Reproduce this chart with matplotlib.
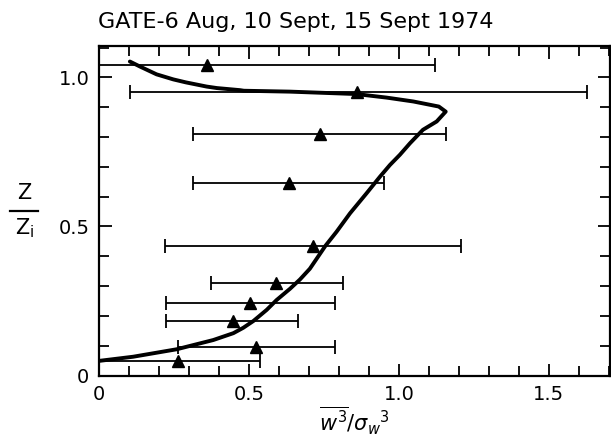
# GATE skewness profile: w^3 / sigma_w^3 against Z / Zi

import matplotlib.pyplot as plt
from matplotlib.ticker import MultipleLocator
from matplotlib.lines import Line2D

# observations (triangles with horizontal range bars)
obs_z = [1.042, 0.950, 0.809, 0.645, 0.436, 0.311, 0.242, 0.182, 0.097, 0.049]
obs_x = [0.359, 0.860, 0.737, 0.632, 0.714, 0.591, 0.502, 0.446, 0.522, 0.264]
obs_lo = [-0.02, 0.103, 0.314, 0.312, 0.220, 0.374, 0.222, 0.222, 0.262, -0.02]
obs_hi = [1.120, 1.626, 1.156, 0.951, 1.208, 0.814, 0.786, 0.662, 0.786, 0.537]

# model curve from top to bottom
curve_x = [0.103, 0.137, 0.192, 0.248, 0.290, 0.359, 0.393, 0.470, 0.483, 0.637,
           0.857, 0.959, 1.048, 1.133, 1.156, 1.126, 1.080, 1.037, 1.003, 0.970,
           0.937, 0.892, 0.837, 0.792, 0.755, 0.703, 0.670, 0.637, 0.592, 0.559,
           0.515, 0.481, 0.448, 0.381, 0.259, 0.114, 0.0]
curve_z = [1.053, 1.036, 1.010, 0.993, 0.983, 0.969, 0.964, 0.957, 0.955, 0.952,
           0.944, 0.932, 0.919, 0.902, 0.885, 0.852, 0.824, 0.779, 0.740, 0.706,
           0.667, 0.611, 0.544, 0.482, 0.435, 0.358, 0.322, 0.291, 0.253, 0.220,
           0.183, 0.160, 0.142, 0.119, 0.088, 0.063, 0.049]

fig = plt.figure(figsize=(6.11, 4.37), dpi=100)
ax = fig.add_axes([0.162, 0.1407, 0.836, 0.754])

xerr = [[x - lo for x, lo in zip(obs_x, obs_lo)],
        [hi - x for x, hi in zip(obs_x, obs_hi)]]
ax.errorbar(obs_x, obs_z, xerr=xerr, fmt='^', color='black', ms=9,
            elinewidth=1.3, capsize=5, capthick=1.3)
ax.plot(curve_x, curve_z, color='black', lw=2.8, solid_joinstyle='round',
        solid_capstyle='round')

ax.set_xlim(0, 1.703)
ax.set_ylim(0, 1.105)
ax.xaxis.set_minor_locator(MultipleLocator(0.1))
ax.yaxis.set_minor_locator(MultipleLocator(0.1))
ax.set_xticks([0, 0.5, 1.0, 1.5])
ax.set_xticklabels(['0', '0.5', '1.0', '1.5'])
ax.set_yticks([0, 0.5, 1.0])
ax.set_yticklabels(['0', '0.5', '1.0'])
ax.tick_params(which='both', direction='in', top=True, right=True, width=1.3,
               labelsize=14)
ax.tick_params(which='major', length=9, pad=7)
ax.tick_params(which='minor', length=7)
for s in ax.spines.values():
    s.set_linewidth(1.6)

ax.set_xlabel(r'$\overline{w^3}/\sigma_w{}^3$', fontsize=15, labelpad=0)
fig.text(0.160, 0.935, 'GATE-6 Aug, 10 Sept, 15 Sept 1974', fontsize=16,
         ha='left', va='baseline', fontweight='medium')

# Z / Zi label
fig.text(0.039, 0.535, 'Z', fontsize=15, ha='center', va='bottom')
fig.text(0.041, 0.505, r'Z$_\mathregular{i}$', fontsize=15, ha='center', va='top')
fig.add_artist(Line2D([0.017, 0.062], [0.517, 0.517], color='black', lw=1.6,
                      transform=fig.transFigure))

fig.savefig('out.png', dpi=100)
